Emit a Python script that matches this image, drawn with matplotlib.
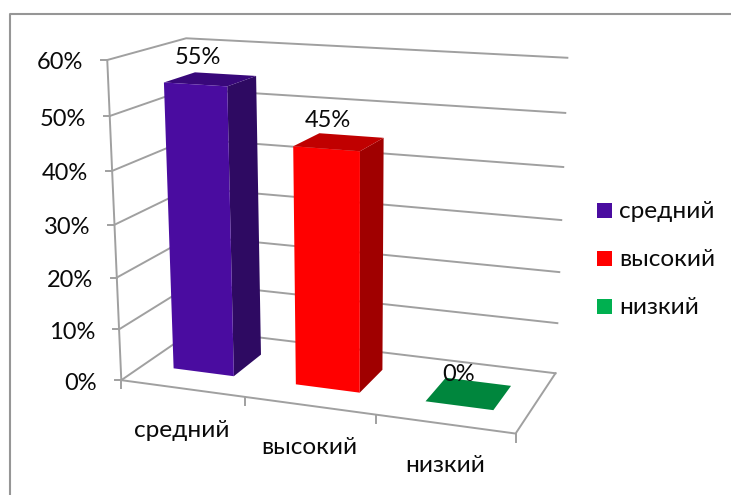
import numpy as np
from matplotlib import pyplot as plt
from matplotlib.patches import Polygon, Rectangle

categories = ["средний", "высокий", "низкий"]
values = [55, 45, 0]
value_ticks = [0, 10, 20, 30, 40, 50, 60]
tick_labels = ["0%", "10%", "20%", "30%", "40%", "50%", "60%"]
front_colors = ["#4A0CA0", "#FF0000", "#00863D"]
side_colors = ["#2E0A62", "#A00000", "#00863D"]
top_colors = ["#38087A", "#C00000", "#00863D"]
legend_colors = ["#4A0CA0", "#FF0000", "#00B050"]

plt.rcParams['font.family'] = ['Lato', 'Open Sans', 'DejaVu Sans']

# 3Dチャートの枠 (u=カテゴリ, d=奥行き, v=値) と画面座標の対応
calib_world = [(0, 0, 0), (0, 0, 60), (0, 1, 0), (0, 1, 60), (3, 1, 0), (3, 1, 60), (3, 0, 0),
               (1, 0, 0), (2, 0, 0), (0, 0, 30), (3, 1, 30)]
calib_px = [(121, 380), (108, 61), (196, 330), (185, 38), (555, 373), (568, 58), (516, 433),
            (244, 398), (376, 415), (114.5, 223), (561, 220)]

rows = []
rhs = []
for (u, d, v), (px, py) in zip(calib_world, calib_px):
    rows.append([u, d, v, 1, 0, 0, 0, 0, -px*u, -px*d, -px*v])
    rhs.append(px)
    rows.append([0, 0, 0, 0, u, d, v, 1, -py*u, -py*d, -py*v])
    rhs.append(py)
p = np.linalg.lstsq(np.array(rows, float), np.array(rhs, float), rcond=None)[0]

def project(u, d, v):
    w = p[8]*u + p[9]*d + p[10]*v + 1
    return ((p[0]*u + p[1]*d + p[2]*v + p[3]) / w, (p[4]*u + p[5]*d + p[6]*v + p[7]) / w)

fig = plt.figure(figsize=(7.31, 4.95), dpi=100)
ax = fig.add_axes([0, 0, 1, 1])
ax.set_xlim(0, 731)
ax.set_ylim(495, 0)
ax.axis('off')

grid = "#A0A0A0"
text_color = "#0A0A0A"
tick_size = 17
label_size = 17.6

# 外枠
ax.plot([9.5, 9.5, 731], [495, 13.5, 13.5], color="#969696", lw=1.5)

# 壁のグリッド線
for v, lab in zip(value_ticks, tick_labels):
    pts = [project(0, 0, v), project(0, 1, v), project(3, 1, v)]
    ax.plot([q[0] for q in pts], [q[1] for q in pts], color=grid, lw=1.4)
    x0, y0 = project(0, 0, v)
    ax.plot([x0 - 6, x0], [y0, y0], color=grid, lw=1.4)
    ax.text(x0 - 24, y0 + 3, lab, ha='right', va='center', fontsize=tick_size, color=text_color)

# 軸
pts = [project(0, 0, 60), project(0, 0, 0), project(3, 0, 0), project(3, 1, 0)]
ax.plot([q[0] for q in pts], [q[1] for q in pts], color=grid, lw=1.4)
for u in range(4):
    x0, y0 = project(u, 0, 0)
    ax.plot([x0, x0], [y0, y0 + 8], color=grid, lw=1.4)

# 棒 (グリッド線より手前に描く)
bar_w = 0.25
d0, d1 = 0.29, 0.70
for i, (val, cat) in enumerate(zip(values, categories)):
    uc = i + 0.5
    ul, ur = uc - bar_w, uc + bar_w
    side = [project(ur, d0, 0), project(ur, d1, 0), project(ur, d1, val), project(ur, d0, val)]
    top = [project(ul, d0, val), project(ur, d0, val), project(ur, d1, val), project(ul, d1, val)]
    front = [project(ul, d0, 0), project(ur, d0, 0), project(ur, d0, val), project(ul, d0, val)]
    ax.add_patch(Polygon(side, color=side_colors[i], lw=0, zorder=2.5))
    ax.add_patch(Polygon(top, color=top_colors[i], lw=0, zorder=2.5))
    ax.add_patch(Polygon(front, color=front_colors[i], lw=0, zorder=2.5))
    xl, yl = project(uc, 0, 0)
    ax.text(xl, yl + 42, cat, ha='center', va='center', fontsize=label_size, color=text_color)

for i, val in enumerate(values):
    xt, yt = project(i + 0.5, 0.42, val)
    ax.text(xt - 7, yt - 23.5, f"{val}%", ha='center', va='center', fontsize=tick_size, color=text_color)

# 凡例
for i, cat in enumerate(categories):
    y = 210 + i*48.2
    ax.add_patch(Rectangle((597, y - 7.5), 15, 15, color=legend_colors[i], lw=0))
    ax.text(619, y + 1, cat, ha='left', va='center', fontsize=label_size, color=text_color)

fig.savefig("out.png", dpi=100)
plt.close()
